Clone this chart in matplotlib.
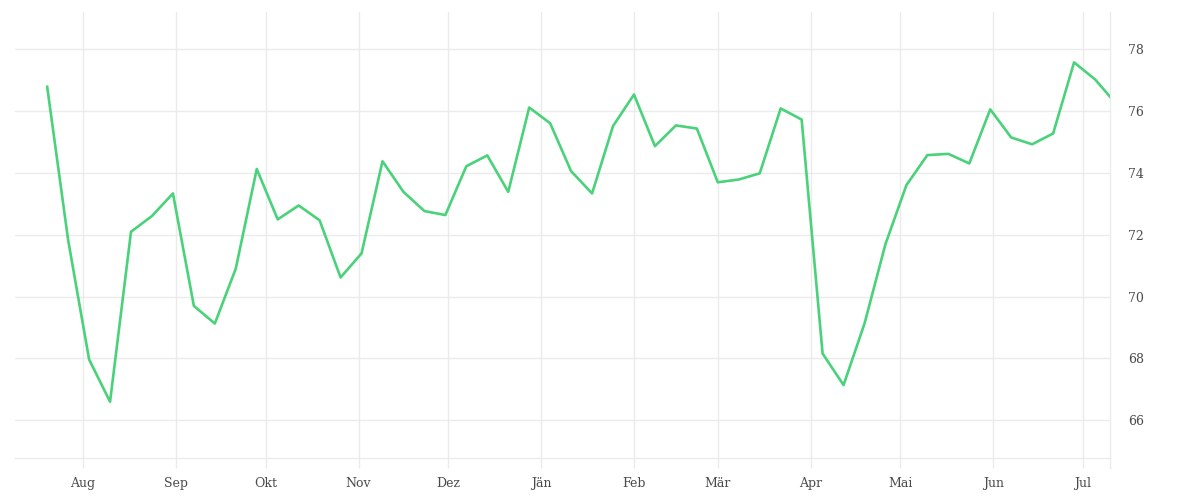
import matplotlib
matplotlib.use("Agg")
import matplotlib.pyplot as plt
import pandas as pd

# weekly values, last point is a partial week
week_dates = list(pd.date_range("2022-07-20", periods=51, freq="7D")) + [pd.Timestamp("2023-07-10")]
values = [
    76.79, 71.83, 67.97, 66.60, 72.10, 72.61, 73.34, 69.70, 69.13, 70.91,
    74.13, 72.50, 72.95, 72.47, 70.62, 71.40, 74.38, 73.39, 72.77, 72.64,
    74.22, 74.57, 73.39, 76.12, 75.61, 74.06, 73.34, 75.52, 76.54, 74.87,
    75.54, 75.44, 73.70, 73.79, 73.99, 76.09, 75.73, 68.16, 67.14, 69.13,
    71.70, 73.61, 74.58, 74.62, 74.31, 76.06, 75.15, 74.93, 75.28, 77.58,
    77.03, 76.47,
]
month_labels = ["Aug", "Sep", "Okt", "Nov", "Dez", "Jän", "Feb", "Mär", "Apr", "Mai", "Jun", "Jul"]
month_starts = list(pd.date_range("2022-08-01", periods=12, freq="MS"))
y_ticks = [66, 68, 70, 72, 74, 76, 78]

grid_col = "#ebebeb"
line_col = "#4ad27a"
text_col = "#4a4a4a"

fig = plt.figure(figsize=(12, 5), dpi=100)
ax = fig.add_axes([15 / 1200, 1 - 458 / 500, (1110 - 15) / 1200, (458 - 12) / 500])

ax.plot(week_dates, values, color=line_col, linewidth=1.9, zorder=3)

ax.set_xlim(pd.Timestamp("2022-07-09 06:00"), pd.Timestamp("2023-07-10"))
ax.set_ylim(64.78, 79.21)

ax.set_xticks(month_starts)
ax.set_xticklabels(month_labels)
ax.set_yticks(y_ticks)
ax.set_yticklabels([str(v) for v in y_ticks])

ax.yaxis.tick_right()
ax.grid(True, color=grid_col, linewidth=1.0, zorder=0)
ax.set_axisbelow(True)

for side in ["top", "left", "right"]:
    ax.spines[side].set_visible(False)
ax.spines["bottom"].set_color(grid_col)
ax.spines["bottom"].set_linewidth(1.0)

# closing vertical line at the right end of the time axis
ax.axvline(pd.Timestamp("2023-07-10"), ymin=-0.022, ymax=1, color=grid_col, linewidth=1.0, clip_on=False)

ax.tick_params(axis="x", length=7.5, width=1.0, color=grid_col, pad=6,
               labelsize=9, labelcolor=text_col)
ax.tick_params(axis="y", length=0, pad=13, labelsize=9, labelcolor=text_col)
for lbl in ax.get_xticklabels() + ax.get_yticklabels():
    lbl.set_family("DejaVu Serif")

fig.savefig("out.png", dpi=100, facecolor="white")
